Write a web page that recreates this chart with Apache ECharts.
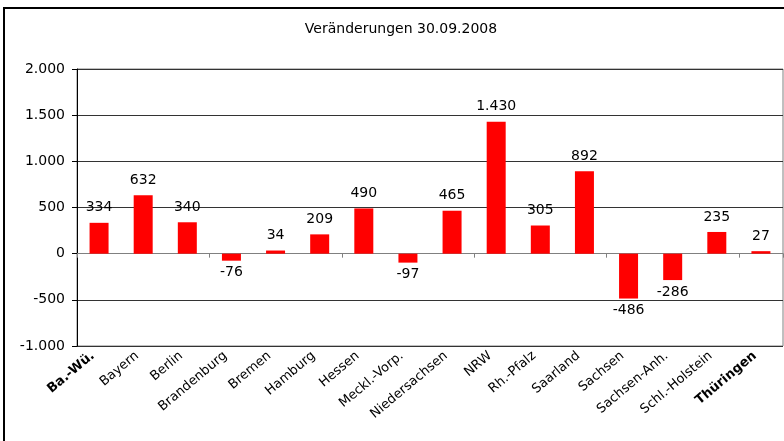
<!DOCTYPE html>
<html>
<head>
<meta charset="utf-8">
<script src="https://cdn.jsdelivr.net/npm/echarts@6/dist/echarts.min.js"></script>
<style>
html,body{margin:0;padding:0;background:#fff;}
#c{width:784px;height:441px;}
</style>
</head>
<body>
<div id="c"></div>
<script>
var title = 'Veränderungen 30.09.2008';
var categories = ['Ba.-Wü.','Bayern','Berlin','Brandenburg','Bremen','Hamburg','Hessen','Meckl.-Vorp.','Niedersachsen','NRW','Rh.-Pfalz','Saarland','Sachsen','Sachsen-Anh.','Schl.-Holstein','Thüringen'];
var values = [334, 632, 340, -76, 34, 209, 490, -97, 465, 1430, 305, 892, -486, -286, 235, 27];
var yMin = -1000, yMax = 2000, yStep = 500;
var boldLabels = ['Ba.-Wü.', 'Thüringen'];

function fmt(v){
  var s = Math.abs(v).toString().replace(/\B(?=(\d{3})+(?!\d))/g, '.');
  return (v < 0 ? '-' : '') + s;
}

var chart = echarts.init(document.getElementById('c'));
var font = 'DejaVu Sans, Arial, sans-serif';
chart.setOption({
  animation: false,
  backgroundColor: '#fff',
  textStyle: {fontFamily: font},
  title: {
    text: title, left: 396, textAlign: 'center', top: 17,
    textStyle: {fontSize: 14, fontWeight: 'normal', color: '#000', fontFamily: font}
  },
  graphic: [{
    type: 'polyline', silent: true,
    shape: {points: [[4, 445], [4, 8], [790, 8]]},
    style: {stroke: '#000', lineWidth: 2, fill: null}
  }],
  grid: {left: 77, right: 1, top: 69, bottom: 95, show: true, borderColor: '#808080', borderWidth: 1},
  xAxis: [{
    type: 'category', data: categories, position: 'bottom',
    axisLine: {onZero: true, lineStyle: {color: '#808080', width: 1}},
    axisTick: {show: true, inside: false, length: 4, alignWithLabel: false, lineStyle: {color: '#808080'}},
    axisLabel: {show: false},
    splitLine: {show: false}
  }, {
    type: 'category', data: categories, position: 'bottom',
    axisLine: {show: false, onZero: false},
    axisTick: {show: false},
    axisLabel: {
      show: true, interval: 0, rotate: 40, margin: 3, padding: [0, 8, 0, 0],
      fontSize: 13, color: '#000', fontFamily: font,
      formatter: function(v){ return boldLabels.indexOf(v) >= 0 ? '{b|' + v + '}' : v; },
      rich: {b: {fontWeight: 'bold', fontSize: 13, color: '#000', fontFamily: font}}
    }
  }],
  yAxis: {
    type: 'value', min: yMin, max: yMax, interval: yStep,
    axisLine: {show: true, onZero: false, lineStyle: {color: '#000', width: 1}},
    axisTick: {show: true, length: 5, lineStyle: {color: '#000'}},
    axisLabel: {fontSize: 14, color: '#000', margin: 12, fontFamily: font, formatter: function(v){ return fmt(v); }},
    splitLine: {show: true, lineStyle: {color: '#333', width: 1}}
  },
  series: [{
    type: 'bar', xAxisIndex: 0, barWidth: 19,
    itemStyle: {color: '#ff0000'},
    label: {show: true, fontSize: 14, color: '#000', fontFamily: font, formatter: function(p){ return fmt(p.value); }},
    data: values.map(function(v){
      return {value: v, label: {position: v < 0 ? 'bottom' : 'top', distance: v < 0 ? 5 : 8}};
    })
  }]
});
</script>
</body>
</html>
